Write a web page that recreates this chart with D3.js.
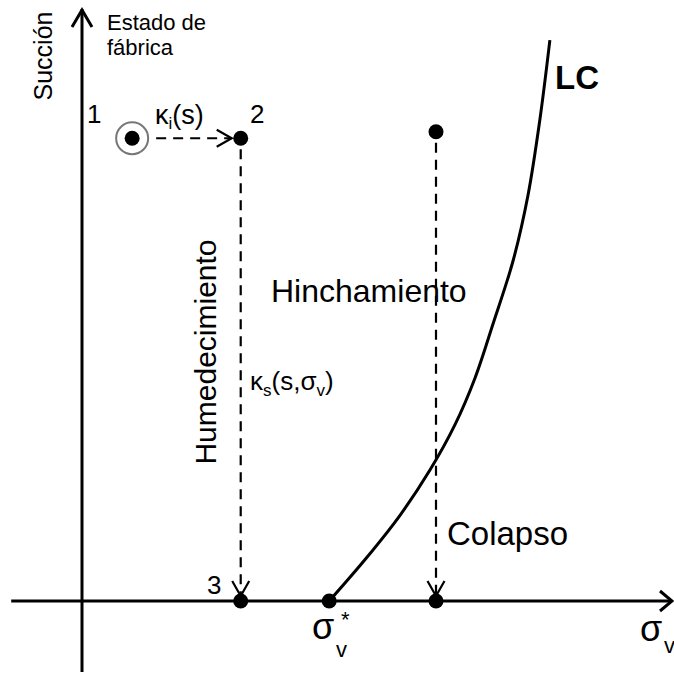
<!DOCTYPE html>
<html>
<head>
<meta charset="utf-8">
<script src="https://cdn.jsdelivr.net/npm/d3@7"></script>
<style>
	body { margin: 0; background: #fff; }
	svg { display: block; font-family: "Liberation Sans", Arial, sans-serif; }
	text { fill: #000; }
</style>
</head>
<body>
<svg width="674" height="673"></svg>
<script>
// LC yield curve (vertical stress, suction)
var lc_sigma   = [41.9, 48.3, 53.9, 59.0, 63.2, 66.6, 69.7, 73.1, 75.6, 77.6, 79.3];
var lc_suction = [0, 7.4, 14.5, 22.2, 29.8, 37.7, 47.0, 57.7, 68.7, 81.4, 94.9];

// States along the paths
var state_names   = ['1', '2', '3', 'sv*', 'top', 'bottom'];
var state_sigma   = [8.5, 26.9, 26.9, 41.9, 60.0, 60.0];
var state_suction = [78.3, 78.3, 0, 0, 79.4, 0];

var axis_min = -12;
var axis_max = 100;

var svg = d3.select('svg');
var x = d3.scaleLinear().domain([0, 100]).range([82, 672]);
var y = d3.scaleLinear().domain([0, 100]).range([601, 10]);

var states = state_names.map((n, i) => { return { name: n, sigma: state_sigma[i], s: state_suction[i] }; });
function st(n) { return states.find(d => d.name === n); }

// Axes
svg.append('line')
	.attr('x1', x(axis_min)).attr('x2', x(axis_max))
	.attr('y1', y(0)).attr('y2', y(0))
	.attr('stroke', '#000').attr('stroke-width', 3);
svg.append('line')
	.attr('x1', x(0)).attr('x2', x(0))
	.attr('y1', y(axis_min)).attr('y2', y(axis_max) - 1)
	.attr('stroke', '#000').attr('stroke-width', 3);
svg.append('path')
	.attr('d', `M ${x(axis_max) - 12} ${y(0) - 10} L ${x(axis_max)} ${y(0)} L ${x(axis_max) - 12} ${y(0) + 10}`)
	.attr('fill', 'none').attr('stroke', '#000').attr('stroke-width', 3);
svg.append('path')
	.attr('d', `M ${x(0) - 10} ${y(axis_max) + 17} L ${x(0)} ${y(axis_max)} L ${x(0) + 10} ${y(axis_max) + 17}`)
	.attr('fill', 'none').attr('stroke', '#000').attr('stroke-width', 3);

// LC curve
var lc = lc_sigma.map((v, i) => [v, lc_suction[i]]);
svg.append('path')
	.datum(lc)
	.attr('d', d3.line().x(d => x(d[0])).y(d => y(d[1])).curve(d3.curveCatmullRom))
	.attr('fill', 'none').attr('stroke', '#000').attr('stroke-width', 3);

// Dashed paths with open arrowheads
function dashed_arrow(a, b, start_gap, end_gap)
{
	var x1 = x(a.sigma), y1 = y(a.s), x2 = x(b.sigma), y2 = y(b.s);
	var len = Math.hypot(x2 - x1, y2 - y1);
	var ux = (x2 - x1) / len, uy = (y2 - y1) / len;
	var sx = x1 + ux * start_gap, sy = y1 + uy * start_gap;
	var ex = x2 - ux * end_gap, ey = y2 - uy * end_gap;
	svg.append('line')
		.attr('x1', sx).attr('y1', sy).attr('x2', ex).attr('y2', ey)
		.attr('stroke', '#000').attr('stroke-width', 2.2)
		.attr('stroke-dasharray', '10 7');
	var px = -uy, py = ux;
	var hl = 15, hw = 8.5;
	svg.append('path')
		.attr('d', `M ${ex - ux * hl + px * hw} ${ey - uy * hl + py * hw} L ${ex} ${ey} L ${ex - ux * hl - px * hw} ${ey - uy * hl - py * hw}`)
		.attr('fill', 'none').attr('stroke', '#000').attr('stroke-width', 2.2);
}
dashed_arrow(st('1'), st('2'), 24, 9);
dashed_arrow(st('2'), st('3'), 11, 5);
dashed_arrow(st('top'), st('bottom'), 11, 5);

// Initial state ring
svg.append('circle')
	.attr('cx', x(st('1').sigma)).attr('cy', y(st('1').s))
	.attr('r', 16)
	.attr('fill', 'none').attr('stroke', '#777').attr('stroke-width', 2);

// State points
svg.selectAll('.state')
	.data(states)
	.enter().append('circle')
	.attr('class', 'state')
	.attr('cx', d => x(d.sigma))
	.attr('cy', d => y(d.s))
	.attr('r', 7.5)
	.attr('fill', '#000');

// Labels
function label(px, py, txt, size, weight)
{
	return svg.append('text')
		.attr('x', px).attr('y', py)
		.attr('font-size', size)
		.attr('font-weight', weight || 'normal')
		.text(txt);
}
svg.append('text')
	.attr('transform', 'translate(52, 56) rotate(-90)')
	.attr('text-anchor', 'middle')
	.attr('font-size', 25)
	.text('Succión');
label(107, 30, 'Estado de', 22);
label(107, 55, 'fábrica', 22);
label(87, 123, '1', 26);
label(250, 123, '2', 26);
label(207, 594, '3', 26);
label(555, 89, 'LC', 33, 'bold');
label(271, 302, 'Hinchamiento', 32);
label(447, 545, 'Colapso', 33);
svg.append('text')
	.attr('transform', 'translate(216, 352) rotate(-90)')
	.attr('text-anchor', 'middle')
	.attr('font-size', 30)
	.text('Humedecimiento');

var ki = label(155, 124, '', 27);
ki.append('tspan').text('κ');
ki.append('tspan').attr('font-size', 17).attr('dy', 5).text('i');
ki.append('tspan').attr('dy', -5).text('(s)');

var ks = label(250, 390, '', 26);
ks.append('tspan').text('κ');
ks.append('tspan').attr('font-size', 17).attr('dy', 6).text('s');
ks.append('tspan').attr('dy', -6).text('(s,σ');
ks.append('tspan').attr('font-size', 17).attr('dy', 6).text('v');
ks.append('tspan').attr('dy', -6).text(')');

label(312, 639, 'σ', 36);
label(341, 627, '*', 22);
label(336, 657, 'v', 22);
label(640, 641, 'σ', 36);
label(664, 653, 'v', 22);
</script>
</body>
</html>
